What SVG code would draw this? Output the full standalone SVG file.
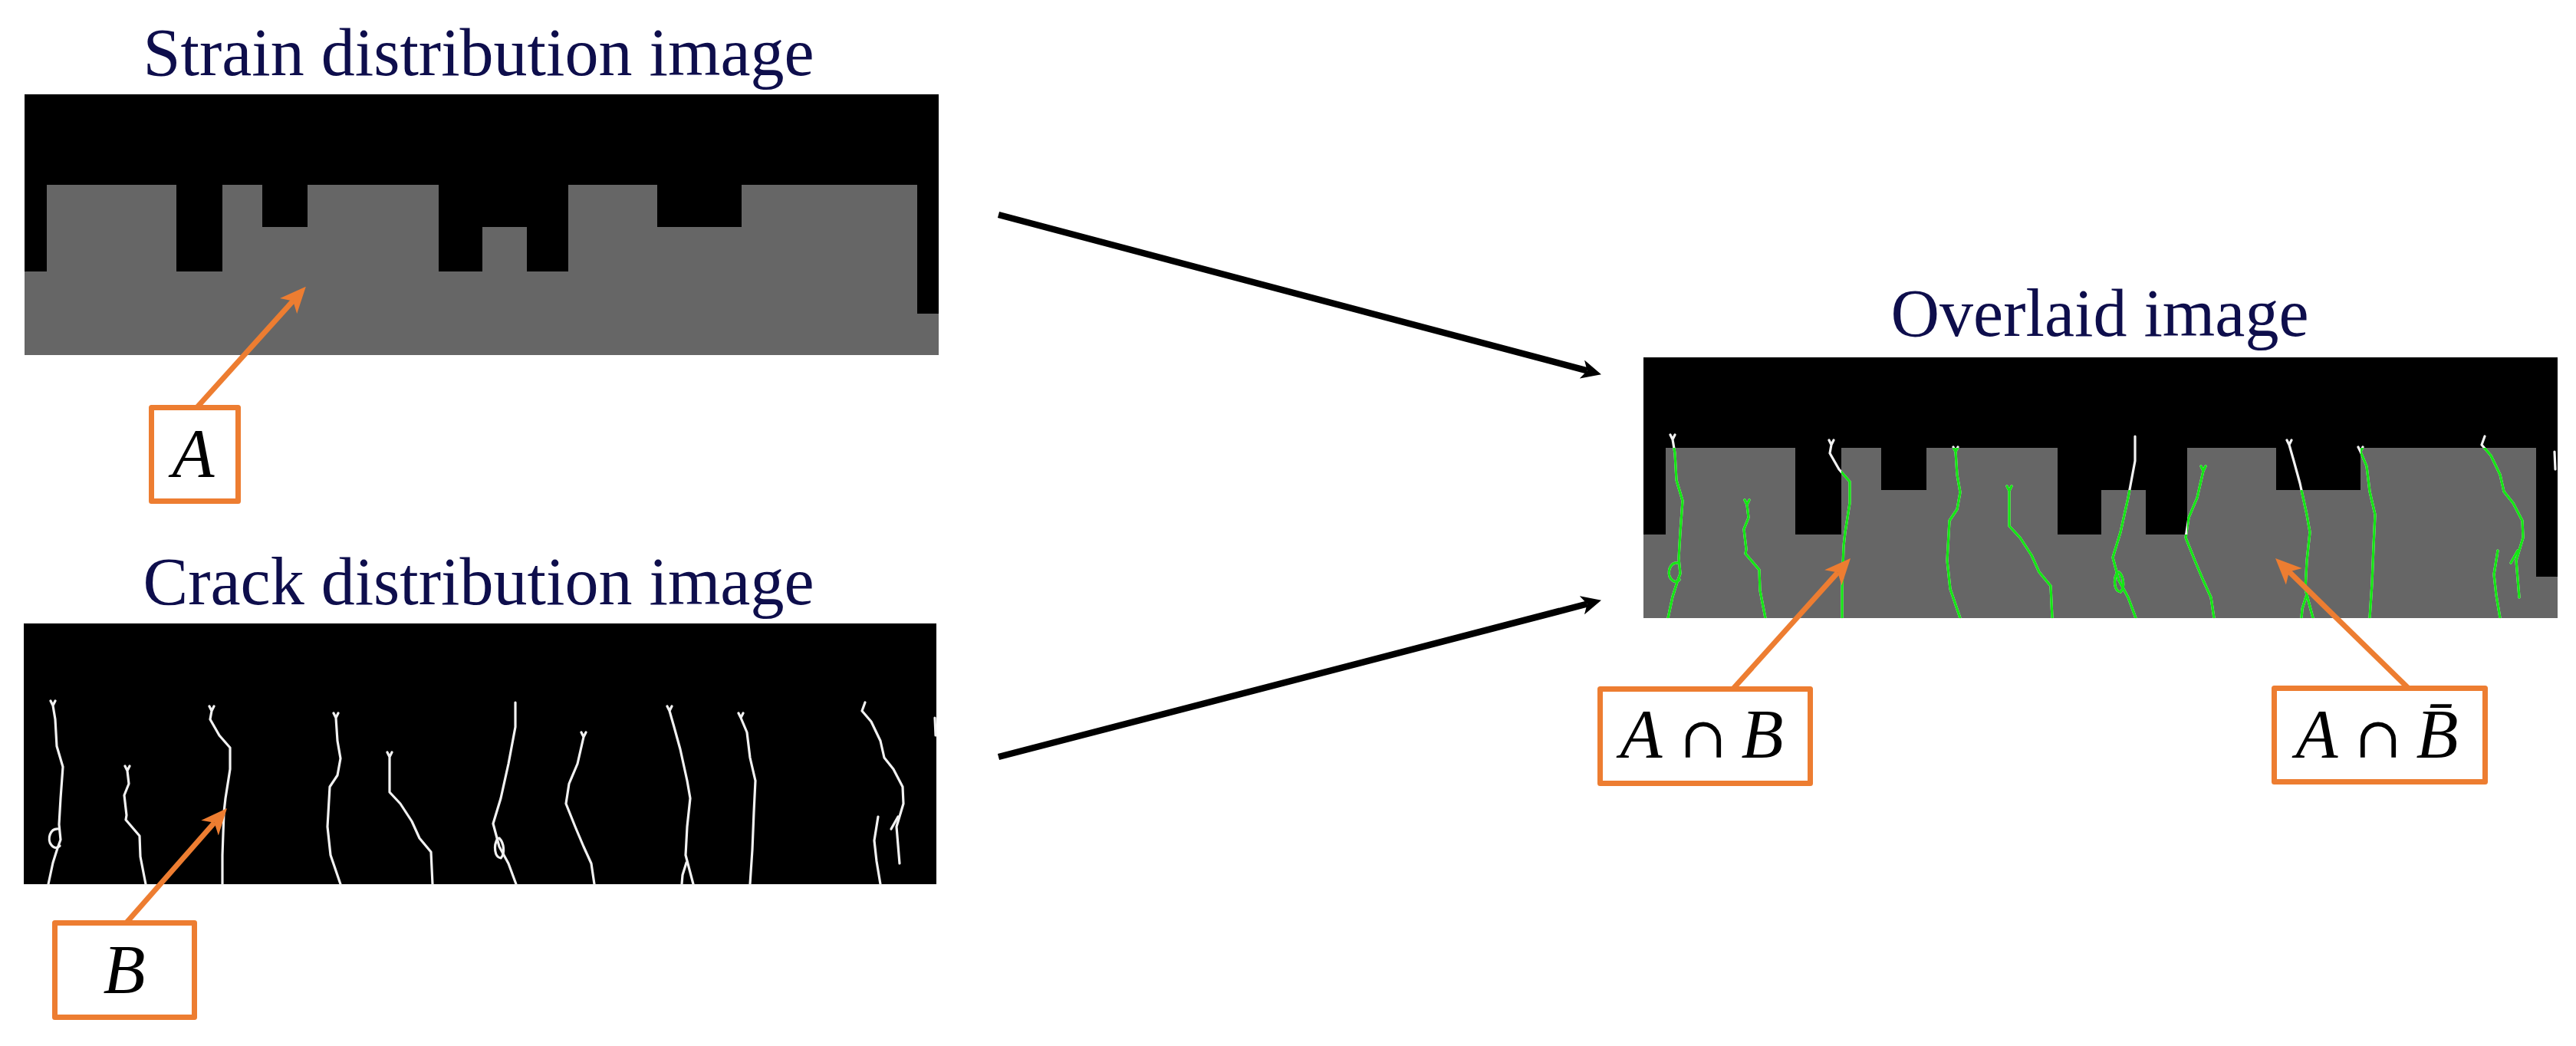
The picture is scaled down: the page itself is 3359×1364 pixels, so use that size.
<svg xmlns="http://www.w3.org/2000/svg" xmlns:xlink="http://www.w3.org/1999/xlink" width="3359" height="1364" viewBox="0 0 3359 1364">
<style>
.title{font-family:"Liberation Serif","Times New Roman",serif;font-size:88px;fill:#0e0e4c;text-anchor:middle}
.lbl{fill:#ffffff;stroke:#ED7D31;stroke-width:7;stroke-linejoin:round}
.math{font-family:"Liberation Serif","DejaVu Serif",serif;font-style:italic;font-size:90px;fill:#000;text-anchor:middle}
.cap{font-family:"DejaVu Serif","Liberation Serif",serif;font-style:normal;font-size:74px;fill:#000;text-anchor:middle}
.crack{fill:none;stroke-width:3.2;stroke-linejoin:round;stroke-linecap:round}
.blk{fill:none;stroke:#000;stroke-width:8.5}
.org{fill:none;stroke:#ED7D31;stroke-width:7}
</style>
<defs>
<path id="profile" d="M0,231 H29 V118 H198 V231 H258 V118 H310 V173 H369 V118 H540 V231 H597 V173 H655 V231 H709 V118 H825 V173 H935 V118 H1164 V286 H1192 V340 H0 Z"/>
<g id="cracks">
<path d="M35,101 L38,107 L41,101 M38,107 L41,125 L43,160 L51,187 L48,228 L46,262 L48,282 L44,293 L38,312 L32,340"/>
<path d="M46,268 C34,266 30,282 36,289 C40,294 44,293 47,290"/>
<path d="M132,186 L135,192 L138,186 M135,192 L137,209 L131,224 L134,250 L133,256 L151,277 L152,304 L159,340"/>
<path d="M242,108 L245,114 L248,108 M245,114 L243,125 L255,146 L269,162 L269,190 L263,228 L261,246 L259,302 L259,340"/>
<path d="M404,117 L407,123 L410,117 M407,123 L409,153 L413,176 L409,198 L399,213 L396,265 L400,302 L413,340"/>
<path d="M474,168 L477,174 L480,168 M477,174 L477,220 L491,235 L506,258 L516,280 L531,298 L533,340"/>
<path d="M641,103 L641,135 L632,183 L622,228 L612,261 L620,291 L632,313 L642,340"/>
<path d="M618,280 C612,290 614,305 622,306 C628,300 626,286 620,280"/>
<path d="M727,142 L730,148 L733,142 M730,148 L722,183 L711,209 L707,235 L719,265 L730,291 L740,313 L744,340"/>
<path d="M839,108 L842,114 L845,108 M842,114 L848,135 L856,164 L865,205 L869,228 L865,265 L863,302 L873,340"/>
<path d="M864,312 L859,328 L858,340"/>
<path d="M932,117 L935,123 L938,117 M935,123 L943,142 L947,175 L954,205 L952,246 L950,295 L947,340"/>
<path d="M1097,103 L1093,114 L1105,128 L1117,153 L1122,175 L1134,190 L1146,213 L1147,235 L1138,265 L1142,313"/>
<path d="M1114,252 L1109,283 L1112,310 L1117,340"/>
<path d="M1140,252 L1131,268"/>
<path d="M1188,123 L1189,146"/>
</g>
<clipPath id="grayClip"><use xlink:href="#profile"/></clipPath>
<marker id="headBlk" markerUnits="userSpaceOnUse" viewBox="0 0 26 25" markerWidth="26" markerHeight="25" refX="7" refY="12.5" orient="auto">
<path d="M0,0 L26,12.5 L0,25 L7,12.5 Z" fill="#000"/>
</marker>
<marker id="headOrg" markerUnits="userSpaceOnUse" viewBox="0 0 34 30" markerWidth="34" markerHeight="30" refX="9" refY="15" orient="auto">
<path d="M0,0 L34,15 L0,30 L9,15 Z" fill="#ED7D31"/>
</marker>
</defs>
<rect width="3359" height="1364" fill="#ffffff"/>

<g id="strain-image">
<text class="title" x="624" y="98">Strain distribution image</text>
<g transform="translate(32,123)">
<rect width="1192" height="340" fill="#000"/>
<use xlink:href="#profile" fill="#666666"/>
</g>
</g>

<g id="crack-image">
<text class="title" x="624" y="788">Crack distribution image</text>
<g transform="translate(31,813)">
<rect width="1190" height="340" fill="#000"/>
<use xlink:href="#cracks" class="crack" stroke="#f2f2f2"/>
</g>
</g>

<g id="overlaid-image">
<text class="title" x="2738" y="438">Overlaid image</text>
<g transform="translate(2143,466)">
<rect width="1192" height="340" fill="#000"/>
<use xlink:href="#profile" fill="#666666"/>
<use xlink:href="#cracks" class="crack" stroke="#f2f2f2"/>
<use xlink:href="#cracks" class="crack" stroke="#14e614" clip-path="url(#grayClip)"/>
</g>
</g>

<g id="connectors">
<line class="blk" x1="1302" y1="280" x2="2069.6" y2="483.4" marker-end="url(#headBlk)"/>
<line class="blk" x1="1302" y1="987" x2="2069.6" y2="787.5" marker-end="url(#headBlk)"/>
<line class="org" x1="257" y1="531" x2="382.1" y2="392.4" marker-end="url(#headOrg)"/>
<line class="org" x1="165" y1="1203" x2="279.5" y2="1072.8" marker-end="url(#headOrg)"/>
<line class="org" x1="2260" y1="898" x2="2396.3" y2="746.6" marker-end="url(#headOrg)"/>
<line class="org" x1="3140" y1="897" x2="2984.9" y2="745.5" marker-end="url(#headOrg)"/>
</g>

<g id="label-A">
<rect class="lbl" x="197.5" y="531.5" width="113" height="122"/>
<text class="math" x="252" y="622">A</text>
</g>
<g id="label-B">
<rect class="lbl" x="71.5" y="1203.5" width="182" height="123"/>
<text class="math" x="162" y="1295">B</text>
</g>
<g id="label-AandB">
<rect class="lbl" x="2086.5" y="898.5" width="274" height="123"/>
<text class="math" y="988"><tspan x="2140">A</tspan><tspan class="cap" x="2221">∩</tspan><tspan x="2298">B</tspan></text>
</g>
<g id="label-AandNotB">
<rect class="lbl" x="2965.5" y="897.5" width="275" height="122"/>
<text class="math" y="988"><tspan x="3021">A</tspan><tspan class="cap" x="3101">∩</tspan><tspan x="3178">B̄</tspan></text>
</g>
</svg>
